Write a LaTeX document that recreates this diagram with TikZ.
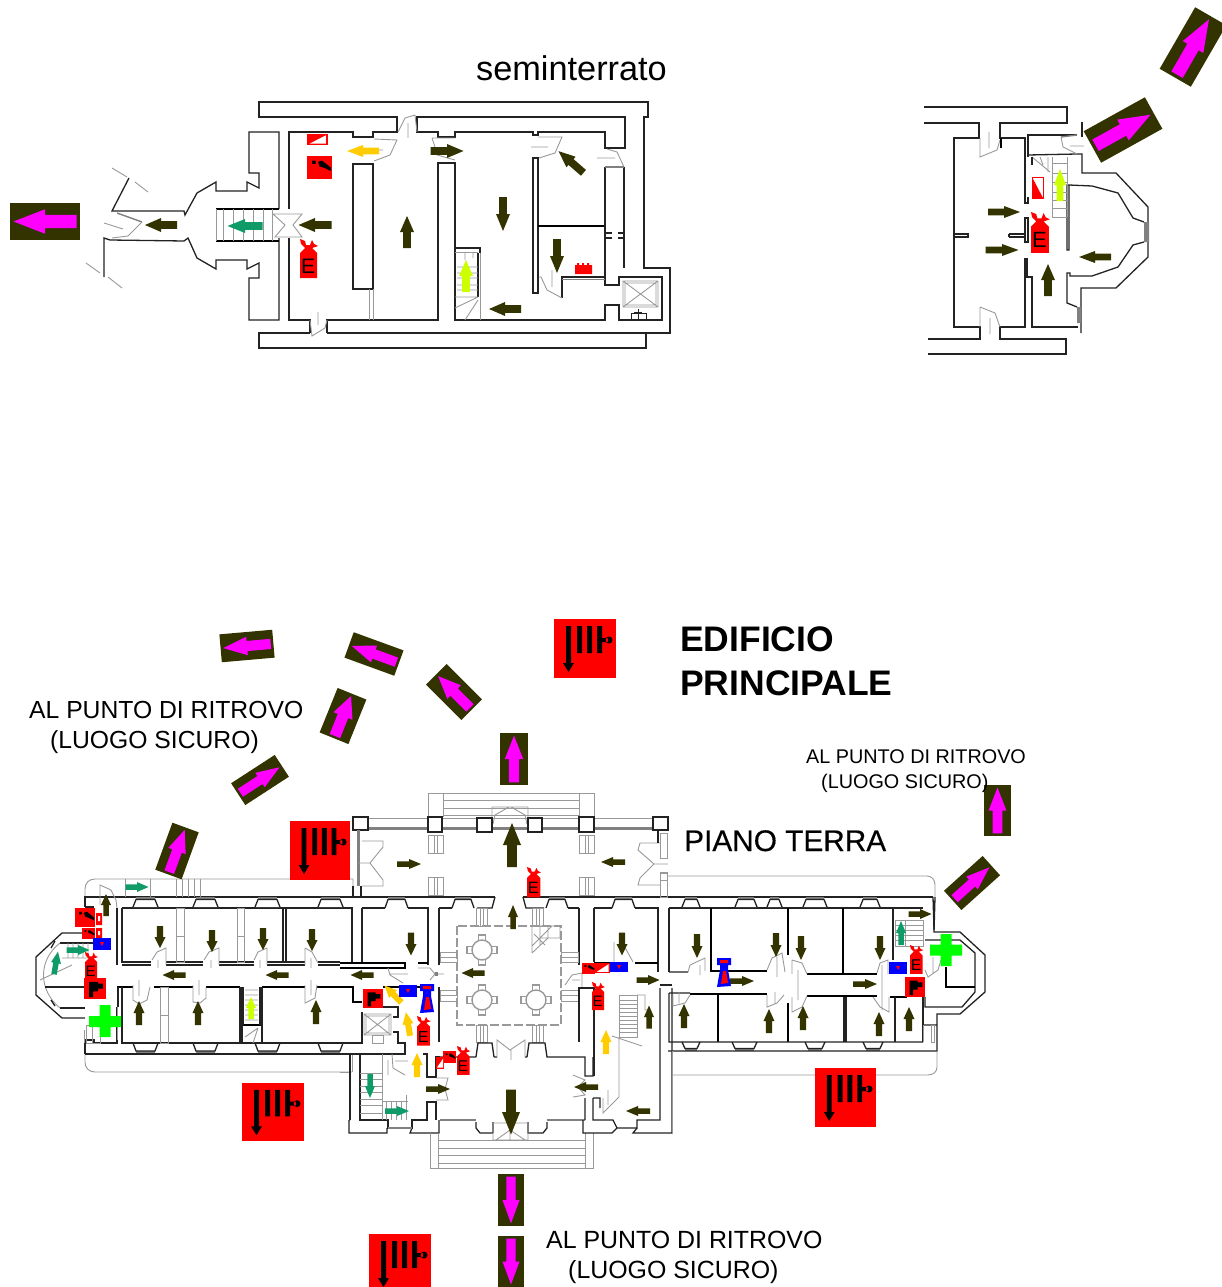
\documentclass[tikz,border=0pt]{standalone}
\usepackage{fontspec}
\setmainfont{Liberation Sans}
\definecolor{dk}{HTML}{333300}
\definecolor{mg}{HTML}{FF00FF}
\definecolor{grn}{HTML}{0F9B68}
\definecolor{yel}{HTML}{FFCC00}
\definecolor{ygr}{HTML}{CCFF00}
\definecolor{wl}{HTML}{222222}
\definecolor{gl}{HTML}{999999}
\definecolor{rd}{HTML}{FF0000}
\definecolor{bl}{HTML}{0000FF}
\definecolor{crs}{HTML}{00FF00}
\tikzset{
 wall/.style={draw=wl,line width=1.3pt,line join=miter},
 thk/.style={draw=black,line width=2pt},
 gw/.style={draw=gl,line width=.9pt},
 gt/.style={draw=gray,line width=2.4pt},
 lab/.style={anchor=base west,inner sep=0pt,text=black},
}
\newcommand{\barr}[6]{\fill[#1,shift={(#2,#3)},rotate=#4] ({#5/2},0)--(0,#6)--(0,{.55*#6})--({-#5/2},{.55*#6})--({-#5/2},{-.55*#6})--(0,{-.55*#6})--(0,{-#6})--cycle;}
\newcommand{\exitb}[5]{\fill[dk,shift={(#1,#2)},rotate=#3] ({-#4/2},{-#5/2}) rectangle ({#4/2},{#5/2});\barr{mg}{#1}{#2}{#3}{#4*.9}{#5*.33}}
\newcommand{\extE}[3]{\begin{scope}[shift={(#1,#2)},scale=#3]
 \fill[rd] (0,39)--(17,39)--(17,14)--(12,9)--(18,7)--(14,5)--(12,1)--(10,6)--(6,6)--(5,2)--(0,0)--(1,5)--(5,9)--(0,14)--cycle;
 \node[transform shape,inner sep=0pt,text=black] (ext-#1-#2) at (8,27) {\fontsize{21}{21}\selectfont E};
 \end{scope}}
\newcommand{\hose}[4]{\begin{scope}[shift={(#1,#2)},xscale=#3/62,yscale=#4/59]
 \fill[rd] (0,0) rectangle (62,59);
 \fill[black] (12,7) rectangle (17,44) (9,44)--(20,44)--(14.5,53)--cycle (23,7) rectangle (28,34) (33,7) rectangle (38,34) (43,7) rectangle (48,34) (48,19) rectangle (54,23) (55,21) circle[radius=3.5];
 \end{scope}}
\newcommand{\hosesm}[4]{\begin{scope}[shift={(#1,#2)},xscale=#3/22,yscale=#4/22]
 \fill[rd] (0,0) rectangle (22,22);
 \fill[black] (5,4) rectangle (14,14) (5,14) rectangle (9,20) (14,6) rectangle (19,11);
 \end{scope}}
\newcommand{\msign}[4]{\begin{scope}[shift={(#1,#2)},xscale=#3,yscale=#4]
 \fill[rd] (0,0) rectangle (1,1);
 \fill[black] (.2,.2) rectangle (.34,.34) (.45,.25)--(.6,.2)--(.95,.5)--(.95,.65)--(.7,.52)--(.5,.45)--cycle;
 \end{scope}}
\newcommand{\tsign}[4]{\begin{scope}[shift={(#1,#2)},xscale=#3,yscale=#4]
 \fill[rd] (0,0) rectangle (1,1);
 \fill[white] (.12,.88)--(.9,.12)--(.9,.88)--cycle;
 \end{scope}}
\newcommand{\bluer}[4]{\fill[bl] (#1,#2) rectangle ++(#3,#4);\fill[rd] ({#1+#3/2-2},{#2+#4/2-2})--({#1+#3/2+2},{#2+#4/2-2})--({#1+#3/2},{#2+#4/2+2})--cycle;}
\newcommand{\alarm}[2]{\begin{scope}[shift={(#1,#2)}]
 \fill[bl] (0,0) rectangle (14,7) (3,7) rectangle (11,12) (3,12)--(11,12)--(14,28)--(0,29)--cycle;
 \fill[rd] (3,2) rectangle (11,5) (6,13)--(9,13)--(11,25)--(4,26)--cycle;
 \end{scope}}
\newcommand{\win}[5]{\fill[gray] ({#1+3},#3) rectangle ({#2-3},#4);\draw[wall,fill=white] (#1,#5)--({#1+3},#4)--({#2-3},#4)--(#2,#5);}
\newcommand{\colm}[2]{\begin{scope}[shift={(#1,#2)}]
 \draw[gw,line width=1.4pt,fill=white] (-3.5,-15) rectangle (3.5,-9) (-3.5,9) rectangle (3.5,15) (-15,-3.5) rectangle (-9,3.5) (9,-3.5) rectangle (15,3.5);
 \draw[gw,line width=1.4pt,fill=white] (0,0) circle[radius=10];
 \end{scope}}
\newcommand{\squ}[4]{\draw[wall,line width=1.4pt,fill=white] (#1,#2) rectangle (#3,#4);}
\newcommand{\gwin}[4]{\draw[gw] (#1,#2) rectangle (#3,#4);\draw[gw] ({(#1+#3)/2-1.5},#2)--({(#1+#3)/2-1.5},#4) ({(#1+#3)/2+1.5},#2)--({(#1+#3)/2+1.5},#4);}
\begin{document}
\begin{tikzpicture}[x=1pt,y=-1pt]
\useasboundingbox (0,0) rectangle (1221,1287);
% ---- seminterrato, left plan
\draw[wall] (310,333)--(259,333)--(259,348)--(646,348)--(646,333)--(670,333)--(670,268)--(644,268)--(644,117)--(648,117)--(648,102)--(259,102)--(259,117)--(397,117)--(397,132)--(373,132)--(373,137)--(353,137)--(353,132)--(289,132)--(289,209);
\draw[wall] (289,238)--(289,320)--(310,320)--(310,333);
\draw[wall] (327,333)--(327,320)--(438,320)--(438,163)--(455,163)--(455,320)--(605,320)--(605,305)--(619,305)--(619,320)--(662,320)--(662,277)--(619,277)--(619,285)--(605,285)--(605,277)--(562,277)--(562,298);
\draw[wall] (327,333)--(646,333);
\draw[wall] (417,117)--(625,117)--(625,148)--(605,148)--(605,132)--(538,132)--(538,135)--(533,135)--(533,132)--(455,132)--(455,137)--(438,137)--(438,132)--(417,132)--cycle;
\draw[wall] (279,209)--(279,132)--(249,132)--(249,173)--(259,173)--(259,188)--(247,182)--(247,191)--(216,191)--(216,182)--(197,193)--(185,215)--(184,211)--(112,211)--(129,178);
\draw[wall] (279,238)--(279,320)--(249,320)--(249,278)--(259,278)--(259,263)--(247,269)--(247,260)--(216,260)--(216,269)--(197,258)--(188,238)--(184,241)--(110,240)--(104,238)--(104,277);
\draw[gw] (112,168)--(127,177) (135,182)--(148,192) (86,263)--(100,273) (108,277)--(122,288) (104,223)--(123,229);
\draw[gt,line width=1.4pt] (117,213)--(142,222);
\draw[gw] (142,222)--(128,236)--(112,238);
\draw[thk] (216,209)--(279,209) (216,241)--(279,241);
\draw[gw] (216,209)--(216,241) (223,209)--(223,241) (233,209)--(233,241) (243,209)--(243,241) (253,209)--(253,241) (263,209)--(263,241) (272,209)--(272,241);
\draw[gw] (273,214)--(302,214)--(293,225)--(302,237)--(275,237)--(285,225)--cycle;
\draw[gw] (310,320)--(312,336)--(325,328)--(327,320) (318,312)--(318,325);
\draw[wall,fill=white] (353,164) rectangle (373,289);
\draw[gw] (369,289)--(369,320) (373,289)--(373,320);
\draw[gw] (374,139)--(397,140)--(390,155)--(374,161) (383,150)--(374,150);
\draw[gw] (415,115)--(405,118)--(398,132) (408,123)--(408,138) (415,115)--(417,132);
\draw[gw] (432,138)--(455,138) (432,138)--(435,147)--(437,155)--(455,160);
\draw[gw] (538,137)--(562,137)--(555,153)--(539,158) (531,147)--(548,147);
\draw[gw] (607,149)--(617,152)--(624,167) (597,158)--(615,158);
\draw[gw] (538,277)--(541,277)--(547,290)--(562,298) (552,270)--(552,287);
\draw[wall,fill=white] (533,158) rectangle (538,293);
\draw[thk,line width=1.5pt] (538,226)--(605,226);
\draw[wall] (605,167)--(605,277) (624,167)--(624,268);
\draw[gt,line width=1.4pt] (605,167)--(624,167) (562,279.5)--(605,279.5);
\draw[white,line width=4pt] (612,235.5)--(618,235.5);
\draw[wall] (605,233)--(612,233) (605,238)--(612,238) (618,233)--(624,233) (618,238)--(624,238);
\draw[wall] (455,248)--(480,248)--(480,253);
\draw[gw] (480,253)--(480,320) (455,252)--(478,252);
\draw[wall] (478,253)--(478,297);
\draw[gw] (457,267)--(478,267) (457,273)--(478,273) (457,278)--(478,278) (457,285)--(478,285) (457,290)--(478,290) (455,297)--(478,297) (455,308)--(478,297) (465,320)--(478,300) (465,253)--(465,260) (473,253)--(473,258);
\draw[gw] (623,281) rectangle (658,307) (623,281)--(658,307) (658,281)--(623,307) (625,283) rectangle (656,305);
\draw[wall,line width=1pt] (631,319)--(631,313)--(646,313)--(646,319) (638,309)--(638,319) (634,312)--(642,312);
\fill[rd] (575,265) rectangle (592,274) (577,263) rectangle (579,265) (582,263) rectangle (584,265) (587,263) rectangle (589,265);
% signs, left plan
\tsign{307}{134}{21}{11}
\msign{307}{156}{25}{23}
\extE{300}{239}{1}
% arrows, left plan
\exitb{45}{221.5}{180}{70}{37}
\foreach \x/\y/\a/\l/\w in {161/225/180/32/7,315/225/180/33/7,447/151/0/33/7,571/162/139/33/7,407/232/90/32/7,503/214/-90/34/7,557/256/-90/34/7,505/309/180/32/7}{\barr{dk}{\x}{\y}{\a}{\l}{\w}}
\barr{grn}{245}{226}{180}{35}{7}
\barr{yel}{363}{151}{180}{32}{6}
\barr{ygr}{466}{276}{90}{32}{7}
% ---- right plan
\draw[wall] (924,107)--(1067,107)--(1067,123)--(1000,123)--(1000,138)--(1025,138)--(1025,203)--(1028,203)--(1028,197);
\draw[wall] (1028,157)--(1028,135)--(1077,135) (1082,122)--(1082,137);
\draw[wall] (924,123)--(979,123)--(979,138)--(954,138)--(954,327)--(980,327)--(980,339)--(928,339);
\draw[wall] (928,354)--(1066,354)--(1066,339)--(1000,339)--(1000,327)--(1025,327)--(1025,258);
\draw[wall] (1028,218)--(1025,218)--(1025,242)--(1028,242)--cycle (1009,234)--(1025,234) (1009,237)--(1025,237) (1009,234)--(1009,237);
\draw[wall] (954,234)--(968,234)--(968,237)--(954,237);
\draw[wall] (1027,258)--(1027,277)--(1032,277)--(1032,327)--(1078,327);
\draw[wall] (1081,333)--(1081,288)--(1116,288)--(1148,257)--(1148,207)--(1116,173)--(1082,173)--(1082,154)--(1077,154)--(1028,155);
\draw[wall] (1067,250)--(1067,185)--(1069,185)--(1069,250)--cycle (1069,185)--(1092,186)--(1118,193)--(1133,218)--(1144,222) (1144,242)--(1133,245)--(1118,267)--(1092,276)--(1070,276)--(1070,273)--(1067,273)--(1067,303)--(1077,307);
\fill[gray] (1144,222) rectangle (1149,242) (1077,307) rectangle (1081,323);
\draw[gw] (980,138)--(980,157)--(997,150)--(1000,140) (989,132)--(989,148) (980,307)--(980,327) (980,307)--(995,313)--(1000,327) (990,318)--(990,334);
\draw[thk] (1001,138)--(1001,148);
\draw[gw] (1063,147)--(1077,154) (1061,137)--(1063,147) (1070,146)--(1084,146);
\draw[gt,line width=1.4pt] (1061,137)--(1077,135);
\draw[gw] (1052,157)--(1052,217) (1067,157)--(1067,217) (1052,163)--(1067,163) (1052,173)--(1067,173) (1052,182)--(1067,182) (1052,192)--(1067,192) (1052,200)--(1067,200) (1052,208)--(1067,208) (1052,217)--(1067,217);
\draw[gw] (1032,157)--(1050,172) (1040,157)--(1043,165) (1048,157)--(1048,172);
\draw[wall] (1032,157)--(1032,165);
\draw[rd,line width=.8pt,fill=white] (1032,177) rectangle (1043,198);
\fill[rd] (1032,177)--(1043,198)--(1032,198)--cycle;
\extE{1031}{212}{1.05}
\exitb{1193}{47}{60}{71}{36}
\exitb{1123}{130}{29}{70}{36}
\foreach \x/\y/\a/\l/\w in {1004/212/0/32/6,1002/250/0/33/6,1095/257/180/32/6,1048/280/90/32/7}{\barr{dk}{\x}{\y}{\a}{\l}{\w}}
\barr{ygr}{1060}{185}{90}{32}{6}
% ---- main building: west wing
\draw[gw] (85,897)--(85,889) .. controls (85,883) and (89,879) .. (95,879)--(353,879)--(353,895);
\draw[gw] (85,1054)--(85,1062) .. controls (85,1068) and (89,1072) .. (95,1072)--(352,1072);
\draw[gw] (352,1054)--(352,1072) (340,1072)--(350,1072);
\draw[wall] (85,907)--(85,897)--(352,897) (85,907)--(94,907);
\draw[wall] (122,908)--(352,908)--(352,963);
\draw[wall] (117,908)--(117,965) (122,908)--(122,962)--(151,962) (122,965)--(151,965);
\draw[wall] (166,962)--(203,962) (166,965)--(203,965) (219,962)--(254,962) (219,965)--(254,965) (267,962)--(305,962) (267,965)--(305,965) (318,962)--(340,962) (318,965)--(340,965);
\draw[wall,line width=1.4pt] (283,908)--(283,962) (286,908)--(286,962);
\draw[gw] (176,908) rectangle (184,962) (176,936)--(184,936) (237,908) rectangle (244,962) (237,936)--(244,936);
\foreach \a/\b in {133/158,193/218,255/280,318/343}{\win{\a}{\b}{897}{899.5}{907}}
\foreach \a/\b in {133/158,193/218,255/280,318/343}{\win{\a}{\b}{1053.5}{1051}{1043}}
\draw[gw] (152,960)--(157,952)--(166,948)--(166,965) (158,960)--(158,968);
\draw[gw] (204,960)--(209,952)--(219,948)--(219,965) (211,960)--(211,968);
\draw[gw] (254,960)--(258,952)--(267,948)--(267,965) (260,960)--(260,968);
\draw[gw] (305,948)--(312,952)--(318,963) (305,948)--(305,965) (311,958)--(311,968);
\draw[thk,line width=1.6pt] (117,987)--(133,987) (154,987)--(193,987) (206,987)--(240,987) (262,987)--(305,987) (317,987)--(353,987);
\draw[wall] (118,987)--(118,1007) (122,987)--(122,1043)--(352,1043) (85,1054)--(352,1054) (85,1054)--(85,1040)--(94,1040)--(94,1043)--(117,1043)--(117,1007);
\draw[gw] (133,985)--(133,1000)--(139,1004)--(147,1000)--(150,987) (139,980)--(139,996) (193,985)--(193,1002)--(200,1003)--(206,998)--(206,987) (199,980)--(199,995) (305,985)--(305,1003)--(315,998)--(317,985) (311,980)--(311,995);
\draw[gw] (160,987) rectangle (168,1043) (160,1015)--(168,1015);
\draw[wall] (240,987)--(240,1043) (242,987)--(242,1043) (262,987)--(262,1043);
\draw[thk,line width=1.4pt] (243,1025)--(261,1025);
\draw[wall] (243,987)--(243,1025) (260,987)--(260,1025);
\draw[gw] (245,990)--(258,990) (245,995)--(258,995) (245,1000)--(258,1000) (245,1005)--(258,1005) (245,1010)--(258,1010) (245,1015)--(258,1015) (245,1020)--(258,1020) (245,1037)--(258,1028) (253,1043)--(258,1028);
% west apse
\draw[wall] (94,933)--(75,933)--(62,933)--(36,957)--(36,995)--(62,1018)--(85,1018);
\draw[wall] (93,943)--(60,943) (85,1008)--(60,1008);
\draw[gw] (60,943) .. controls (38,960) and (38,990) .. (60,1008);
\draw[wall,line width=1.6pt] (45,987)--(85,987);
\draw[wall] (55,941)--(51,948) (55,1006)--(51,1000);
\draw[gw] (68,943)--(68,958) (73,943)--(73,958) (78,943)--(78,958) (83,943)--(83,958) (88,943)--(88,958) (62,958)--(88,958) (40,980)--(72,965);
\draw[gw] (84,1043)--(84,1030) (86,1025) rectangle (100,1043) (92,1025)--(92,1043) (117,1007)--(117,1040);
\draw[gw] (100,905)--(100,885)--(111,890)--(116,900)--(117,908);
\draw[gw] (125,879)--(125,897) (150,879)--(150,897) (176,879)--(176,897) (182,879)--(182,897) (188,879)--(188,897) (194,879)--(194,897) (200,879)--(200,897);
% signs west
\msign{75}{908}{20}{19}
\msign{82}{928}{13}{11}
\fill[rd] (96,913) rectangle (102,925) (96,928) rectangle (102,938);
\fill[white] (98,916) rectangle (100,921) (98,931) rectangle (100,935);
\bluer{93}{938}{18}{12}
\extE{85}{952}{.72}
\hosesm{84}{978}{22}{21}
\fill[crs] (99.5,1005) rectangle (110.5,1037) (89,1016) rectangle (121,1027);
% west arrows
\foreach \x/\y/\a/\l/\w in {106/905/90/22/5,160/937/-90/22/5.5,212/941/-90/22/5.5,263/939/-90/22/5.5,312/940/-90/22/5.5,174/975/180/23/5,277/975/180/23/5,362/975/180/23/5,139/1013/90/24/5.5,198/1013/90/24/5.5,316/1012/90/24/5.5}{\barr{dk}{\x}{\y}{\a}{\l}{\w}}
\barr{ygr}{251}{1008}{90}{22}{5}
\barr{grn}{137}{887}{0}{23}{5}
\barr{grn}{78}{950}{0}{23}{5}
\barr{grn}{56}{963}{80}{23}{5}
% ---- centre
\draw[gw] (428,817)--(428,793)--(594,793)--(594,817) (443,793)--(443,817) (579,793)--(579,817) (443,800)--(579,800) (443,808)--(579,808) (443,815)--(579,815);
\draw[gw] (492,807)--(528,807) (492,807)--(492,825) (528,807)--(528,825) (493,824)--(495,815)--(509,807) (527,824)--(525,815)--(511,807);
\draw[gw] (368,818)--(658,818);
\draw[gt] (368,828.5)--(477,828.5) (492,828.5)--(528,828.5) (542,828.5)--(653,828.5);
\foreach \a/\b/\c/\d in {353/817/368/830,428/817/442/832,477/818/492/832,528/818/542/832,579/817/594/832,653/817/668/830}{\squ{\a}{\b}{\c}{\d}}
\draw[gt] (358.5,830)--(358.5,886);
\draw[wall] (353,886)--(353,897) (361,886)--(361,897);
\draw[gw] (362,841)--(383,841)--(383,847)--(370,863)--(383,880)--(383,886)--(362,886) (358,863)--(370,863);
\draw[gw] (660,843)--(640,843)--(638,850)--(654,864)--(640,878)--(638,885)--(660,885) (654,864)--(668,864);
\draw[wall] (658,830)--(658,843);
\draw[gw] (660,833) rectangle (667,858) (660,873) rectangle (667,897);
\gwin{428}{835}{443}{853}\gwin{428}{877}{443}{895}\gwin{579}{835}{594}{853}\gwin{579}{877}{594}{895}
\draw[wall,line width=1.4pt] (340,897)--(495,897) (523,897)--(933,897);
\foreach \a/\b in {385/408,452/474,546/568,612/635}{\win{\a}{\b}{897}{899.5}{908}}
\draw[wall] (495,897)--(492,908)--(477,908) (523,897)--(526,908)--(544,908);
\draw[wall] (362,908)--(385,908) (408,908)--(428,908)--(428,965) (439,908)--(439,965) (594,908)--(612,908) (635,908)--(658,908)--(658,972) (669,908)--(669,972) (579,908)--(579,965) (594,908)--(594,962);
\draw[wall] (352,908)--(352,963) (362,908)--(362,963);
\draw[wall] (439,908)--(452,908) (568,908)--(579,908);
\draw[thk,line width=1.4pt] (340,963)--(405,963)--(405,968)--(340,968) (418,963)--(428,963);
\draw[thk,line width=1.6pt] (594,963)--(610,963) (635,963)--(658,963);
\draw[gw,dash pattern=on 9pt off 3pt,line width=1.2pt] (457,926) rectangle (561,1025);
\gwin{476}{908}{487}{926}\gwin{532}{908}{543}{926}\gwin{476}{1025}{487}{1042}\gwin{532}{1025}{543}{1042}
\draw[gw] (440,952) rectangle (457,962) (440,957)--(457,957) (440,990) rectangle (457,1001) (440,995)--(457,995) (561,952) rectangle (578,962) (561,957)--(578,957) (561,990) rectangle (578,1001) (561,995)--(578,995);
\colm{482}{950}\colm{482}{1000}\colm{536}{1000}
\draw[gw] (532,953)--(532,926)--(560,926)--(560,938)--(540,938) (532,953)--(548,938) (532,946)--(552,926) (540,926)--(540,946) (548,926)--(548,938) (534,934)--(545,945);
% door gaps corridor centre
\draw[gw] (388,968)--(390,975)--(403,983) (390,974)--(408,974) (418,968)--(430,968)--(435,974)--(430,980) (437,974)--(444,974);
\fill[gray] (435,972) rectangle (438,976);
\draw[gw] (565,985)--(572,975)--(582,973)--(582,987) (572,980)--(580,980);
% south-west centre
\draw[thk,line width=1.6pt] (340,987)--(353,987)--(353,1002)--(362,1002) (383,987)--(432,987);
\draw[wall] (383,1007)--(398,1007)--(398,1017)--(393,1017) (362,1012)--(362,1043)--(340,1043) (393,1032)--(398,1032)--(398,1043)--(405,1043)--(405,1054)--(340,1054);
\draw[gw] (364,1014) rectangle (391,1035) (364,1014)--(391,1035) (391,1014)--(364,1035) (366,1016) rectangle (389,1033);
\draw[gw] (372,1035) rectangle (383,1043);
\draw[wall] (350,1054)--(350,1120) (360,1054)--(360,1120)--(388,1120)--(388,1128)--(412,1128)--(412,1120)--(427,1120)--(427,1102)--(436,1102)--(436,1120);
\draw[wall] (349,1120)--(349,1133)--(387,1133)--(387,1128) (350,1120)--(349,1120) (412,1128)--(410,1133)--(439,1133)--(439,1120);
\draw[gt,line width=1.4pt] (388,1128)--(412,1128);
\draw[wall] (423,1054)--(427,1054)--(427,1077)--(436,1077)--(436,1057)--(440,1057);
\draw[wall] (439,987)--(439,1042);
\draw[gw] (382,1054)--(382,1120) (360,1073)--(382,1073) (360,1079)--(382,1079) (360,1086)--(382,1086) (360,1092)--(382,1092) (360,1099)--(382,1099) (360,1105)--(382,1105) (360,1113)--(382,1113);
\draw[gw] (382,1101)--(408,1101) (386,1101)--(386,1120) (391,1101)--(391,1120) (396,1101)--(396,1120) (401,1101)--(401,1120) (406,1101)--(406,1120) (406,1101)--(406,1095);
\draw[gw] (392,1054)--(393,1068)--(405,1075) (388,1060)--(388,1075) (395,1061)--(408,1061);
\draw[gw] (436,1078)--(448,1078)--(445,1089)--(448,1100)--(436,1100);
\draw[wall] (440,1057)--(476,1057) (476,1057)--(478,1043)--(492,1043)--(494,1057) (527,1057)--(529,1043)--(545,1043)--(547,1057)--(585,1057)--(585,1076)--(593,1076)--(593,1057) (494,1057)--(497,1057) (525,1057)--(527,1057);
\draw[wall] (579,987)--(579,1042) (579,988)--(594,988)--(594,1076);
\draw[gw] (497,1057)--(497,1040)--(510,1050)--(525,1040)--(525,1057) (511,1050)--(511,1060);
\draw[gt,line width=1.4pt] (440,1120)--(476,1120) (547,1120)--(585,1120);
\draw[wall] (476,1122)--(476,1128)--(480,1133)--(493,1133) (493,1122)--(493,1133) (528,1122)--(528,1133)--(543,1133)--(547,1128)--(547,1122);
\draw[gw] (493,1123) rectangle (528,1140) (496,1140)--(510,1130)--(525,1140) (510,1125)--(510,1140);
\draw[gw] (430,1133)--(430,1168)--(593,1168)--(593,1133) (438,1133)--(438,1168) (585,1133)--(585,1168) (438,1140)--(585,1140) (438,1148)--(585,1148) (438,1155)--(585,1155) (438,1163)--(585,1163);
\draw[wall] (585,1098)--(585,1120) (593,1098)--(600,1098)--(600,1108) (593,1098)--(593,1120)--(613,1120)--(617,1128)--(637,1128)--(637,1120)--(660,1120)--(660,988);
\draw[wall] (672,988)--(672,1133)--(633,1133)--(637,1128) (617,1128)--(612,1133)--(583,1133)--(583,1120);
\draw[wall] (660,985)--(672,985);
\draw[gw] (573,1075)--(585,1080)--(578,1087)--(585,1095)--(573,1097);
\draw[gw] (619,995) rectangle (637,1037) (619,1000)--(637,1000) (619,1004)--(637,1004) (619,1008)--(637,1008) (619,1012)--(637,1012) (619,1016)--(637,1016) (619,1020)--(637,1020) (619,1024)--(637,1024) (619,1028)--(637,1028) (619,1032)--(637,1032);
\draw[gw] (612,1036)--(642,1046) (619,1037)--(619,1097)--(603,1113)--(603,1098) (608,1090)--(608,1105) (637,995)--(645,995)--(645,1010)--(650,1010);
\draw[gw] (614,942)--(614,962) (622,942)--(633,962);
% east wing
\draw[gw] (667,876)--(927,876) .. controls (932,876) and (935,880) .. (935,885)--(935,897);
\draw[gw] (660,872) rectangle (667,897) (660,880)--(667,880);
\draw[wall] (669,908)--(893,908)--(893,960) (893,908)--(923,908);
\foreach \a/\b in {682/700,735/757,767/782,803/827,860/880}{\win{\a}{\b}{897}{899.5}{907}}
\foreach \a/\b in {682/700,732/757,805/825,863/883}{\win{\a}{\b}{1051}{1048.5}{1042}}
\draw[thk,line width=1.5pt] (711,908)--(711,971) (788,908)--(788,955) (843,908)--(843,973) (718,995)--(718,1042) (788,1003)--(788,1042) (710,971)--(767,971) (807,974)--(877,974) (690,994)--(767,994) (807,996)--(877,996) (890,997)--(907,997);
\draw[wall] (844,997)--(844,1042) (846,997)--(846,1042) (895,997)--(895,1042) (923,997)--(923,1042);
\draw[wall] (669,972)--(688,972) (669,993)--(690,993) (669,993)--(669,1042)--(923,1042) (668,1051)--(937,1051)--(937,1025)--(923,1025) (935,897)--(934,932)--(960,932)--(985,955)--(985,992)--(960,1014)--(937,1014)--(937,1025);
\draw[wall] (933,897)--(934,930) (925,940)--(960,940)--(975,953)--(975,992)--(962,1007)--(925,1007)--(925,997);
\draw[thk,line width=1.5pt] (946,967)--(946,987)--(975,987);
\draw[gw] (937,1051)--(937,1067) .. controls (937,1072) and (933,1075) .. (928,1075)--(672,1075);
\draw[gw] (672,1051)--(672,1133) (923,1025)--(923,1042) (931,1025) rectangle (934,1042);
\draw[gw] (688,972)--(690,965)--(705,958)--(705,971) (700,965)--(700,975) (673,995)--(673,1006)--(685,1003)--(690,995) (679,992)--(679,1003);
\draw[gw] (767,970)--(772,958)--(782,953)--(785,972) (777,957)--(777,977) (767,995)--(767,1007)--(777,1003)--(784,995) (775,992)--(775,1003);
\draw[gw] (792,960)--(802,963)--(807,974) (792,960)--(792,974) (792,997)--(792,1012)--(802,1007)--(807,996) (798,970)--(798,1000);
\draw[gw] (877,973)--(880,963)--(888,960)--(888,974) (873,997)--(880,1007)--(889,1012)--(889,997) (882,965)--(882,1010);
\draw[gw] (895,920) rectangle (923,946) (895,925)--(923,925) (895,930)--(923,930) (895,935)--(923,935) (895,940)--(923,940) (905,920)--(905,946);
\draw[gw] (925,970)--(928,977)--(938,970)--(941,960) (933,957)--(933,973);
% centre arrows
\foreach \x/\y/\a/\l/\w in {512/845/90/44/9,511/1112/-90/45/9,409/864/0/24/5,613/862/180/24/5,513/917/90/24/5,411/944/-90/23/5.5,622/944/-90/23/5.5,473/973/180/23/5,648/980/0/23/5,649/1017/90/23/5,438/1089/0/24/5,586/1087/180/24/5,638/1111/180/24/5,697/946/-90/24/5.5,776/945/-90/24/5.5,801/948/-90/24/5.5,880/948/-90/24/5.5,742/981/0/24/5,865/984/0/24/5,684/1016/90/24/5.5,769/1021/90/24/5.5,803/1018/90/24/5.5,879/1024/90/24/5.5,909/1019/90/24/5.5,920/914/0/23/5}{\barr{dk}{\x}{\y}{\a}{\l}{\w}}
\foreach \x/\y/\a in {393/994/135,408/1024/100,417/1065/90,606/1042/90}{\barr{yel}{\x}{\y}{\a}{24}{5.5}}
\barr{grn}{370}{1086}{-90}{24}{5}
\barr{grn}{397}{1111}{0}{24}{5}
\barr{grn}{901}{933}{90}{24}{5}
% centre signs
\extE{527}{867}{.78}
\extE{417}{1016}{.76}
\extE{457}{1046}{.74}
\extE{592}{982}{.72}
\extE{910}{945}{.74}
\bluer{399}{985}{18}{12}
\bluer{610}{962}{18}{10}
\bluer{889}{962}{18}{12}
\alarm{420}{984}
\alarm{717}{958}
\hosesm{363}{989}{20}{19}
\hosesm{905}{977}{20}{20}
\msign{582}{963}{13}{11}
\tsign{595}{963}{15}{10}
\msign{443}{1051}{13}{12}
\tsign{436}{1057}{8}{12}
\fill[crs] (940.5,934) rectangle (951.5,966) (930,944.5) rectangle (962,955.5);
% big hose signs
\hose{554}{619}{62}{59}
\hose{290}{821}{60}{59}
\hose{242}{1083}{62}{58}
\hose{815}{1068}{61}{59}
\hose{369}{1234}{62}{59}
% exit boxes
\exitb{247}{646}{185}{53}{28}
\exitb{374}{654}{160}{53}{27}
\exitb{454}{692}{135}{50}{29}
\exitb{343}{716}{68}{48}{31}
\exitb{260}{780}{33}{52}{26}
\exitb{177}{851}{70}{50}{28}
\exitb{514}{759}{90}{52}{28}
\exitb{997.5}{810.5}{90}{51}{27}
\exitb{972}{883}{42}{52}{26}
\exitb{511}{1200}{-90}{52}{26}
\exitb{511}{1261.5}{-90}{51}{26}
% labels
\node[lab] (t1) at (476,81) {\fontsize{34.3}{34}\selectfont seminterrato};
\node[lab] (t2) at (680,651) {\fontsize{35.5}{35}\selectfont\bfseries EDIFICIO};
\node[lab] (t3) at (680,695) {\fontsize{35.5}{35}\selectfont\bfseries PRINCIPALE};
\node[lab] (t4) at (684,851) {\fontsize{29.8}{30}\selectfont\addfontfeature{FakeBold=0.4} PIANO TERRA};
\node[lab] (t5) at (29,718) {\fontsize{24.7}{24}\selectfont AL PUNTO DI RITROVO};
\node[lab] (t6) at (50,748) {\fontsize{24.7}{24}\selectfont (LUOGO SICURO)};
\node[lab] (t7) at (806,763) {\fontsize{19.8}{19}\selectfont AL PUNTO DI RITROVO};
\node[lab] (t8) at (821,788) {\fontsize{19.8}{19}\selectfont (LUOGO SICURO)};
\node[lab] (t9) at (546,1248) {\fontsize{24.9}{24}\selectfont AL PUNTO DI RITROVO};
\node[lab] (t10) at (568,1278) {\fontsize{24.9}{24}\selectfont (LUOGO SICURO)};
\end{tikzpicture}
\end{document}
